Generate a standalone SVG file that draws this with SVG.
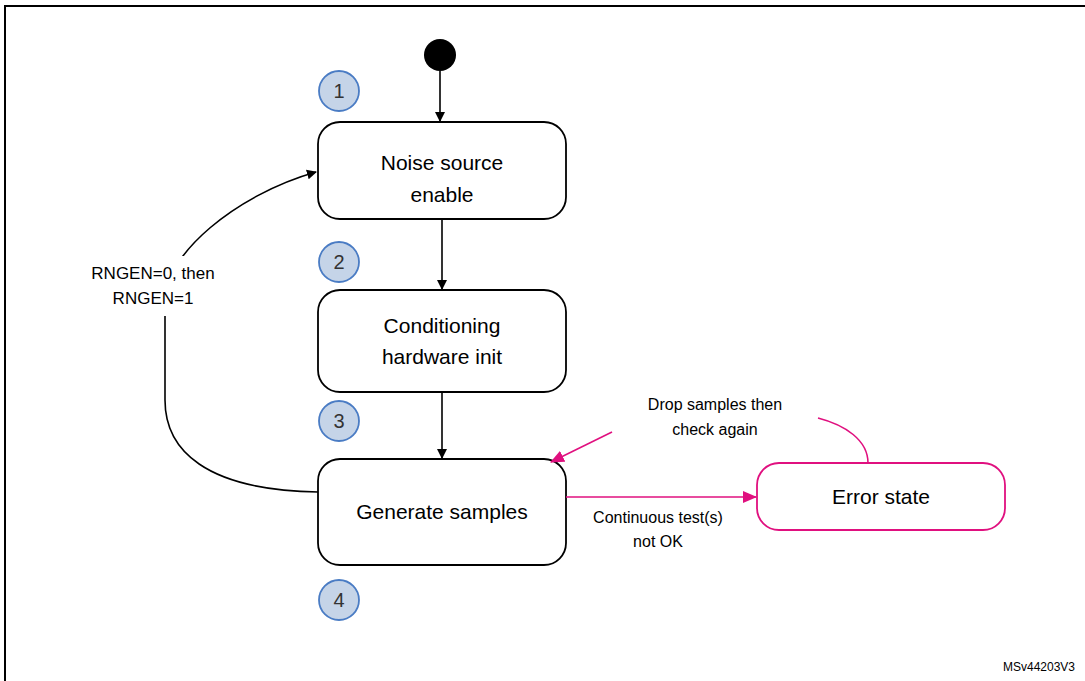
<svg xmlns="http://www.w3.org/2000/svg" width="1085" height="681" viewBox="0 0 1085 681">
<defs>
<style>
text{font-family:"Liberation Sans",Arial,sans-serif;fill:#000}
.st{fill:#fff;stroke:#000;stroke-width:1.8}
.big{font-size:21px;text-anchor:middle}
.lab{font-size:16px;text-anchor:middle}
.bd circle{fill:#c5d4e8;stroke:#4a7cc4;stroke-width:1.8}
.bd text{font-size:20px;text-anchor:middle;fill:#333}
.c{fill:none;stroke:#000;stroke-width:1.6}
.m{fill:none;stroke:#e0107f;stroke-width:1.6}
</style>
<marker id="ak" markerWidth="10" markerHeight="10" refX="9" refY="5" orient="auto" markerUnits="userSpaceOnUse"><path d="M0,0 L10,5 L0,10 z" fill="#000"/></marker>
<marker id="am" markerWidth="14" markerHeight="12" refX="13" refY="6" orient="auto" markerUnits="userSpaceOnUse"><path d="M0,0 L14,6 L0,12 z" fill="#e0107f"/></marker>
</defs>
<rect x="5" y="6" width="1090" height="690" fill="#fff" stroke="#000" stroke-width="2"/>
<g id="start"><circle cx="440" cy="55" r="16" fill="#000"/></g>
<g id="n1"><rect class="st" x="318" y="122" width="248" height="97" rx="22"/><text class="big" x="442" y="170">Noise source</text><text class="big" x="442" y="202">enable</text></g>
<g id="n2"><rect class="st" x="318" y="290" width="248" height="102" rx="22"/><text class="big" x="442" y="333">Conditioning</text><text class="big" x="442" y="364">hardware init</text></g>
<g id="n3"><rect class="st" x="318" y="459" width="248" height="106" rx="22"/><text class="big" x="442" y="519">Generate samples</text></g>
<g id="err"><rect x="757" y="463" width="248" height="67" rx="22" fill="#fff" stroke="#e0107f" stroke-width="1.8"/><text class="big" x="881" y="504">Error state</text></g>
<g class="bd" id="b1"><circle cx="339" cy="91" r="20"/><text x="339" y="98">1</text></g>
<g class="bd" id="b2"><circle cx="339" cy="262" r="20"/><text x="339" y="269">2</text></g>
<g class="bd" id="b3"><circle cx="339" cy="421" r="20"/><text x="339" y="428">3</text></g>
<g class="bd" id="b4"><circle cx="339" cy="600" r="20"/><text x="339" y="607">4</text></g>
<g id="connectors">
<line class="c" x1="440" y1="71" x2="440" y2="121" marker-end="url(#ak)"/>
<line class="c" x1="442" y1="219" x2="442" y2="289" marker-end="url(#ak)"/>
<line class="c" x1="442" y1="392" x2="442" y2="458" marker-end="url(#ak)"/>
<path class="c" d="M318,492 C205,490 165,450 165,400 L165,300 C165,255 235,195 316,172" marker-end="url(#ak)"/>
<line class="m" x1="566" y1="497" x2="756" y2="497" marker-end="url(#am)"/>
<path class="m" d="M868,463 C868,440 845,425 818,418"/>
<line class="m" x1="612" y1="432" x2="551" y2="462" marker-end="url(#am)"/>
</g>
<rect x="70" y="256" width="150" height="60" fill="#fff"/>
<text font-size="17" text-anchor="middle" x="153" y="279">RNGEN=0, then</text>
<text font-size="17" text-anchor="middle" x="153" y="304">RNGEN=1</text>
<text class="lab" x="658" y="523">Continuous test(s)</text>
<text class="lab" x="658" y="547">not OK</text>
<text class="lab" x="715" y="410">Drop samples then</text>
<text class="lab" x="715" y="435">check again</text>
<text x="1075" y="671" font-size="12" text-anchor="end">MSv44203V3</text>
</svg>
